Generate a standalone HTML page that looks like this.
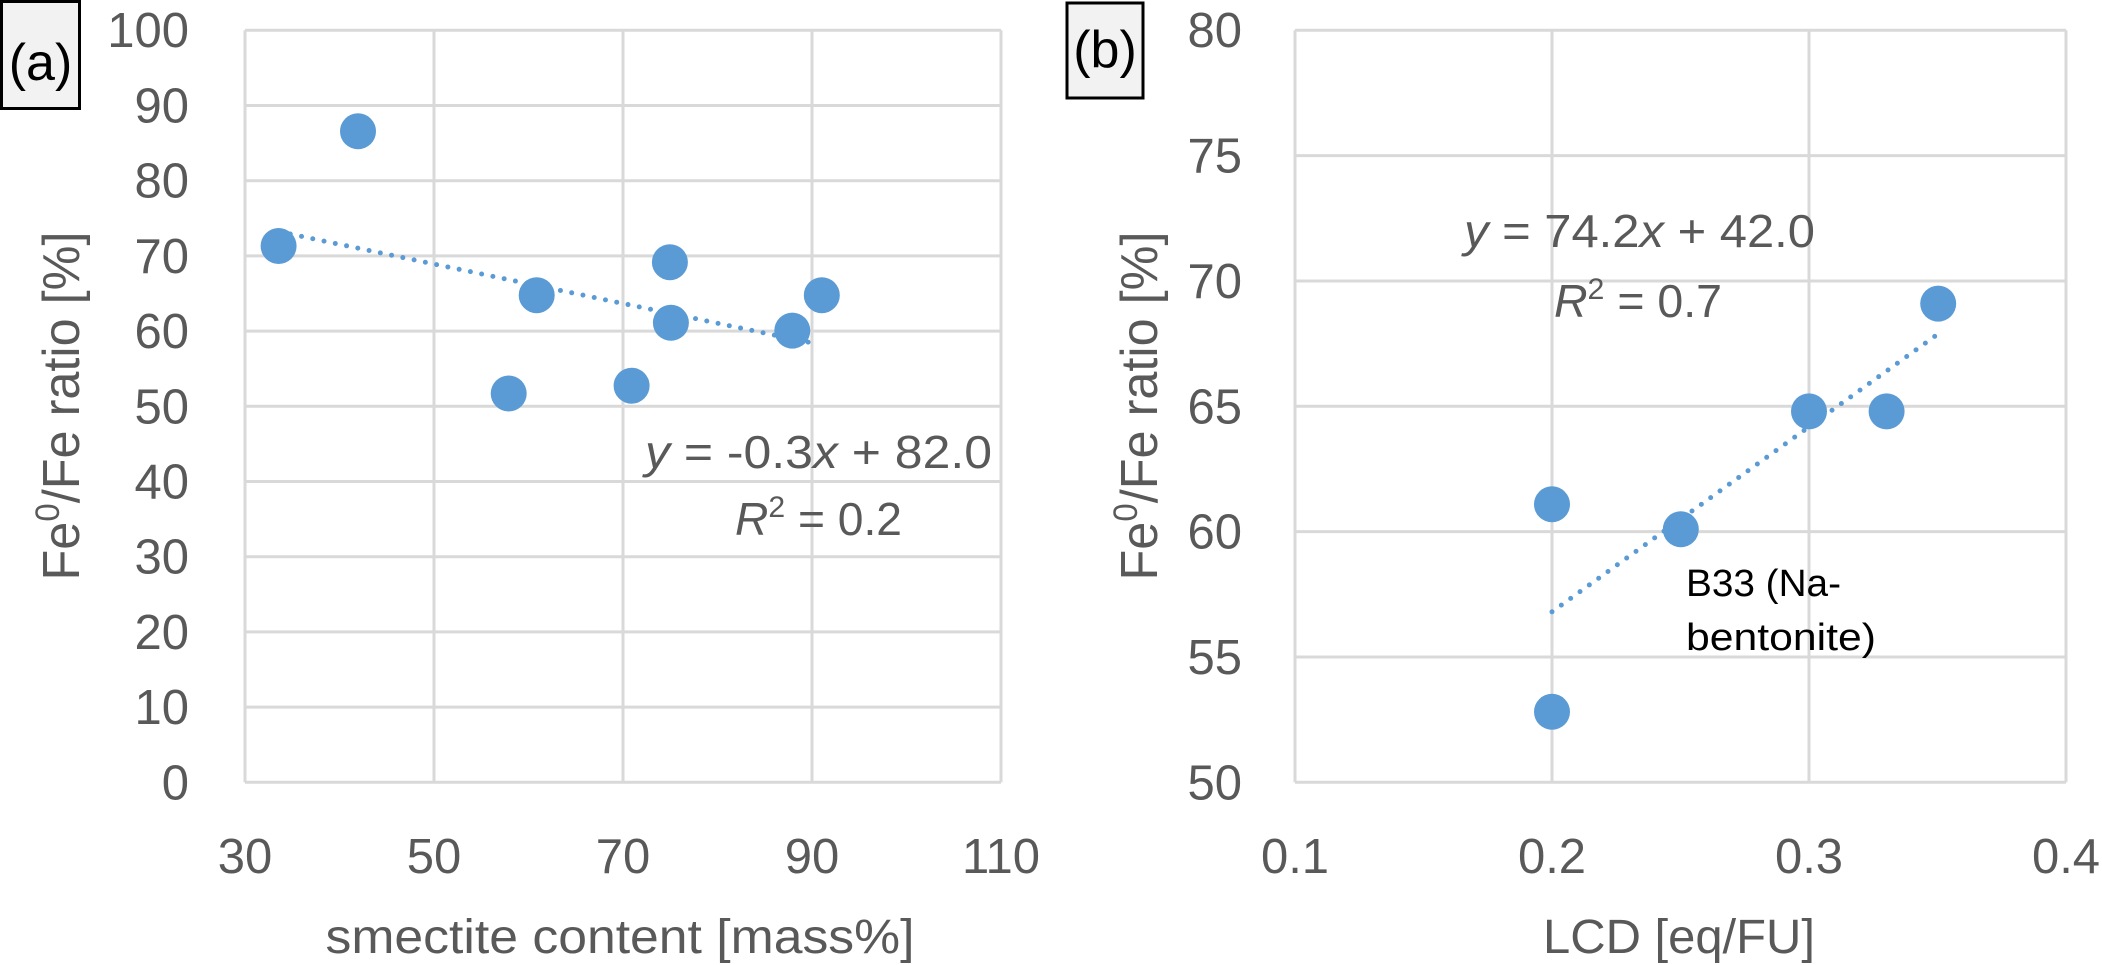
<!DOCTYPE html>
<html><head><meta charset="utf-8"><style>
html,body{margin:0;padding:0;background:#fff;}
svg{display:block;}
text{font-family:"Liberation Sans",sans-serif;fill:#595959;}
</style></head><body>
<svg width="2102" height="965" viewBox="0 0 2102 965" xmlns="http://www.w3.org/2000/svg">
<g stroke="#d9d9d9" stroke-width="3" fill="none">
  <!-- panel a grid -->
  <line x1="245" y1="30.3" x2="245" y2="782.3"/>
  <line x1="434" y1="30.3" x2="434" y2="782.3"/>
  <line x1="623" y1="30.3" x2="623" y2="782.3"/>
  <line x1="812" y1="30.3" x2="812" y2="782.3"/>
  <line x1="1001" y1="30.3" x2="1001" y2="782.3"/>
  <line x1="245" y1="30.3" x2="1001" y2="30.3"/>
  <line x1="245" y1="105.5" x2="1001" y2="105.5"/>
  <line x1="245" y1="180.7" x2="1001" y2="180.7"/>
  <line x1="245" y1="255.9" x2="1001" y2="255.9"/>
  <line x1="245" y1="331.1" x2="1001" y2="331.1"/>
  <line x1="245" y1="406.3" x2="1001" y2="406.3"/>
  <line x1="245" y1="481.5" x2="1001" y2="481.5"/>
  <line x1="245" y1="556.7" x2="1001" y2="556.7"/>
  <line x1="245" y1="631.9" x2="1001" y2="631.9"/>
  <line x1="245" y1="707.1" x2="1001" y2="707.1"/>
  <line x1="245" y1="782.3" x2="1001" y2="782.3"/>
  <!-- panel b grid -->
  <line x1="1295" y1="30.3" x2="1295" y2="782.3"/>
  <line x1="1552" y1="30.3" x2="1552" y2="782.3"/>
  <line x1="1809" y1="30.3" x2="1809" y2="782.3"/>
  <line x1="2066" y1="30.3" x2="2066" y2="782.3"/>
  <line x1="1295" y1="30.3" x2="2066" y2="30.3"/>
  <line x1="1295" y1="155.6" x2="2066" y2="155.6"/>
  <line x1="1295" y1="281" x2="2066" y2="281"/>
  <line x1="1295" y1="406.3" x2="2066" y2="406.3"/>
  <line x1="1295" y1="531.6" x2="2066" y2="531.6"/>
  <line x1="1295" y1="657" x2="2066" y2="657"/>
  <line x1="1295" y1="782.3" x2="2066" y2="782.3"/>
</g>
<g fill="#5b9bd5">
  <circle cx="278.6" cy="246" r="18"/>
  <circle cx="358" cy="131.3" r="18"/>
  <circle cx="536.7" cy="295.2" r="18"/>
  <circle cx="508.7" cy="393.5" r="18"/>
  <circle cx="631.6" cy="385.7" r="18"/>
  <circle cx="669.9" cy="262.2" r="18"/>
  <circle cx="670.9" cy="322.8" r="18"/>
  <circle cx="792.3" cy="330.6" r="18"/>
  <circle cx="821.8" cy="295.2" r="18"/>
  <circle cx="1552" cy="504.3" r="18"/>
  <circle cx="1680.8" cy="529.3" r="18"/>
  <circle cx="1809" cy="411.4" r="18"/>
  <circle cx="1886.6" cy="411.4" r="18"/>
  <circle cx="1938.2" cy="303.6" r="18"/>
  <circle cx="1552" cy="711.8" r="18"/>
</g>
<g stroke="#5b9bd5" stroke-width="5" stroke-linecap="round" stroke-dasharray="0 11.5" fill="none">
  <line x1="279" y1="231.7" x2="816" y2="343.8"/>
  <line x1="1552" y1="611.8" x2="1938" y2="334"/>
</g>
<!-- label boxes -->
<rect x="1.5" y="1.5" width="78" height="107" fill="#f2f2f2" stroke="#000" stroke-width="3"/>
<text x="40.5" y="80" font-size="52" text-anchor="middle" style="fill:#000">(a)</text>
<rect x="1067" y="3" width="76" height="95" fill="#f2f2f2" stroke="#000" stroke-width="3"/>
<text x="1105" y="67" font-size="52" text-anchor="middle" style="fill:#000">(b)</text>
<!-- panel a y ticks -->
<g font-size="49" text-anchor="end">
  <text x="189" y="47">100</text>
  <text x="189" y="122.5">90</text>
  <text x="189" y="197.7">80</text>
  <text x="189" y="272.9">70</text>
  <text x="189" y="348.1">60</text>
  <text x="189" y="423.3">50</text>
  <text x="189" y="498.5">40</text>
  <text x="189" y="573.7">30</text>
  <text x="189" y="648.9">20</text>
  <text x="189" y="724.1">10</text>
  <text x="189" y="799.3">0</text>
</g>
<g font-size="49" text-anchor="middle">
  <text x="245" y="873">30</text>
  <text x="434" y="873">50</text>
  <text x="623" y="873">70</text>
  <text x="812" y="873">90</text>
  <text x="1001" y="873">110</text>
  <text x="1295" y="873">0.1</text>
  <text x="1552" y="873">0.2</text>
  <text x="1809" y="873">0.3</text>
  <text x="2066" y="873">0.4</text>
</g>
<g font-size="49" text-anchor="end">
  <text x="1242" y="47">80</text>
  <text x="1242" y="172.6">75</text>
  <text x="1242" y="298">70</text>
  <text x="1242" y="423.3">65</text>
  <text x="1242" y="548.6">60</text>
  <text x="1242" y="674">55</text>
  <text x="1242" y="799.3">50</text>
</g>
<!-- axis titles -->
<text x="620" y="953" font-size="48" text-anchor="middle" textLength="589" lengthAdjust="spacingAndGlyphs">smectite content [mass%]</text>
<text x="1679" y="953" font-size="48" text-anchor="middle" textLength="272" lengthAdjust="spacingAndGlyphs">LCD [eq/FU]</text>
<text transform="translate(79,406) rotate(-90)" font-size="52" text-anchor="middle" textLength="349" lengthAdjust="spacingAndGlyphs">Fe<tspan font-size="34" dy="-20">0</tspan><tspan dy="20">/Fe ratio [%]</tspan></text>
<text transform="translate(1157,406) rotate(-90)" font-size="52" text-anchor="middle" textLength="349" lengthAdjust="spacingAndGlyphs">Fe<tspan font-size="34" dy="-20">0</tspan><tspan dy="20">/Fe ratio [%]</tspan></text>
<!-- equations -->
<text x="645" y="468" font-size="46" textLength="347" lengthAdjust="spacingAndGlyphs"><tspan font-style="italic">y</tspan> = -0.3<tspan font-style="italic">x</tspan> + 82.0</text>
<text x="735" y="535" font-size="46" textLength="167" lengthAdjust="spacingAndGlyphs"><tspan font-style="italic">R</tspan><tspan font-size="30" dy="-18">2</tspan><tspan dy="18"> = 0.2</tspan></text>
<text x="1464" y="247" font-size="46" textLength="351" lengthAdjust="spacingAndGlyphs"><tspan font-style="italic">y</tspan> = 74.2<tspan font-style="italic">x</tspan> + 42.0</text>
<text x="1554" y="317" font-size="46" textLength="168" lengthAdjust="spacingAndGlyphs"><tspan font-style="italic">R</tspan><tspan font-size="30" dy="-18">2</tspan><tspan dy="18"> = 0.7</tspan></text>
<!-- annotation -->
<text x="1686" y="596" font-size="38" style="fill:#000" textLength="155" lengthAdjust="spacingAndGlyphs">B33 (Na-</text>
<text x="1686" y="650" font-size="38" style="fill:#000" textLength="190" lengthAdjust="spacingAndGlyphs">bentonite)</text>
</svg>
</body></html>
